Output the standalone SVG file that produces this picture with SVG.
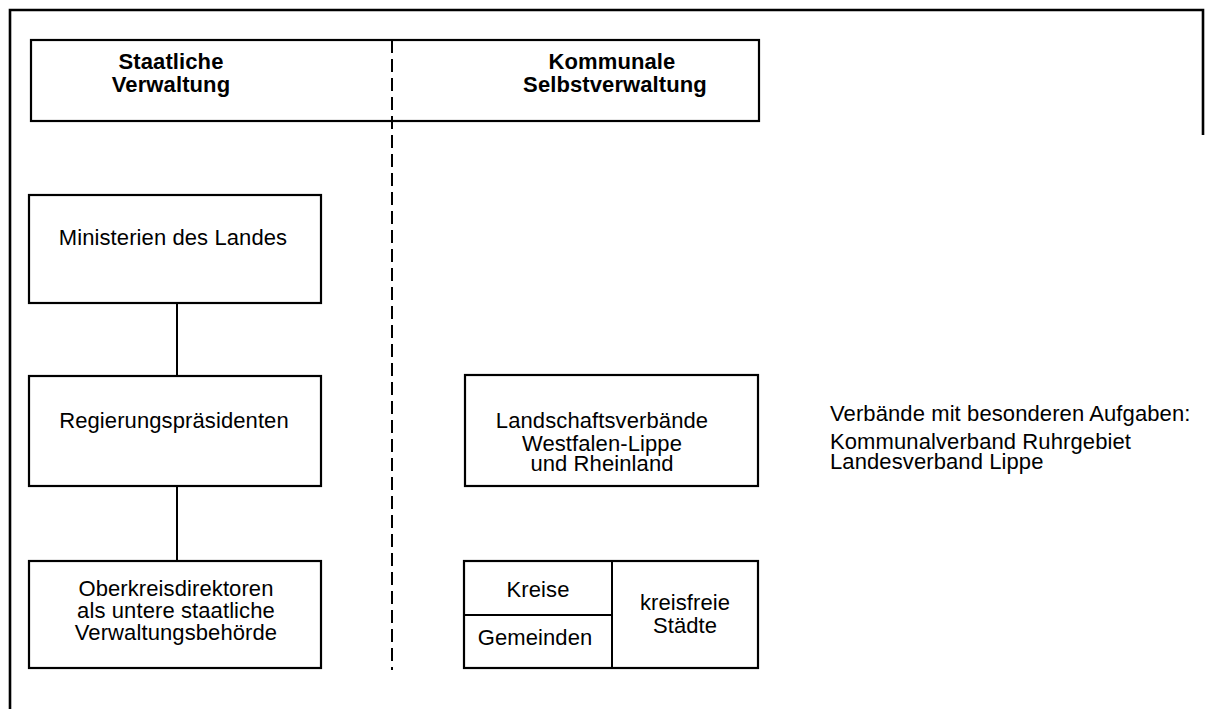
<svg xmlns="http://www.w3.org/2000/svg" width="1205" height="709" viewBox="0 0 1205 709">
<style>
  .box { fill: none; stroke: #000; stroke-width: 2.2; }
  .ln { stroke: #000; stroke-width: 2; fill: none; }
  .frame { stroke: #000; stroke-width: 2.6; fill: none; }
  .t { font-family: "Liberation Sans", Arial, Helvetica, sans-serif; font-size: 22px; letter-spacing: 0.1px; fill: #000; }
  .c { text-anchor: middle; }
  .b { font-weight: bold; }
</style>
<rect width="1205" height="709" fill="#fff"/>
<g id="frame">
  <path class="frame" d="M10 709 V10 H1203 V135"/>
</g>
<g id="connectors">
  <line class="ln" x1="392" y1="40" x2="392" y2="670" stroke-dasharray="13 6"/>
  <line class="ln" x1="177" y1="303" x2="177" y2="376"/>
  <line class="ln" x1="177" y1="486" x2="177" y2="561"/>
</g>
<g id="header">
  <rect class="box" x="31" y="40" width="728" height="81"/>
  <text class="t b c" x="171" y="69">Staatliche</text>
  <text class="t b c" x="171" y="92">Verwaltung</text>
  <text class="t b c" x="612" y="69">Kommunale</text>
  <text class="t b c" x="615" y="92">Selbstverwaltung</text>
</g>
<g id="ministerien">
  <rect class="box" x="29" y="195" width="292" height="108"/>
  <text class="t c" x="173" y="245">Ministerien des Landes</text>
</g>
<g id="regierung">
  <rect class="box" x="29" y="376" width="292" height="110"/>
  <text class="t c" x="174" y="428">Regierungspräsidenten</text>
</g>
<g id="oberkreis">
  <rect class="box" x="29" y="561" width="292" height="107"/>
  <text class="t c" x="176" y="596">Oberkreisdirektoren</text>
  <text class="t c" x="176" y="618">als untere staatliche</text>
  <text class="t c" x="176" y="640">Verwaltungsbehörde</text>
</g>
<g id="landschaft">
  <rect class="box" x="465" y="375" width="293" height="111"/>
  <text class="t c" x="602" y="428">Landschaftsverbände</text>
  <text class="t c" x="602" y="451">Westfalen-Lippe</text>
  <text class="t c" x="602" y="471">und Rheinland</text>
</g>
<g id="kommunen">
  <rect class="box" x="464" y="561" width="294" height="107"/>
  <line class="ln" x1="612" y1="561" x2="612" y2="668"/>
  <line class="ln" x1="464" y1="615" x2="612" y2="615"/>
  <text class="t c" x="538" y="597">Kreise</text>
  <text class="t c" x="535" y="645">Gemeinden</text>
  <text class="t c" x="685" y="610">kreisfreie</text>
  <text class="t c" x="685" y="633">Städte</text>
</g>
<g id="verbaende">
  <text class="t" x="830" y="421">Verbände mit besonderen Aufgaben:</text>
  <text class="t" x="830" y="449">Kommunalverband Ruhrgebiet</text>
  <text class="t" x="830" y="469">Landesverband Lippe</text>
</g>
</svg>
